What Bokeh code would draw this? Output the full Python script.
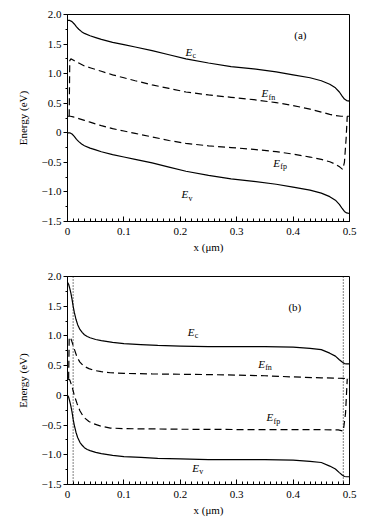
from bokeh.plotting import figure
from bokeh.layouts import column
from bokeh.models import Label, SingleIntervalTicker, Range1d, Span
from bokeh.embed import file_html
from bokeh.resources import INLINE

# ---------------- Panel (a) data ----------------
xa_band = [0, 0.004, 0.008, 0.012, 0.016, 0.02, 0.025, 0.03, 0.04, 0.05, 0.06, 0.08, 0.1, 0.12,
           0.15, 0.18, 0.21, 0.25, 0.29, 0.33, 0.37, 0.4, 0.43, 0.45, 0.465, 0.475, 0.482,
           0.487, 0.491, 0.495, 0.5]
ec_a = [1.90, 1.90, 1.88, 1.84, 1.79, 1.75, 1.71, 1.68, 1.64, 1.61, 1.58, 1.53, 1.49, 1.45,
        1.39, 1.32, 1.25, 1.18, 1.12, 1.08, 1.03, 0.98, 0.93, 0.88, 0.82, 0.76, 0.69,
        0.62, 0.57, 0.545, 0.535]
ev_a = [0.00, 0.00, -0.02, -0.06, -0.11, -0.15, -0.19, -0.22, -0.26, -0.29, -0.32, -0.37, -0.41, -0.45,
        -0.51, -0.58, -0.65, -0.72, -0.78, -0.82, -0.87, -0.92, -0.97, -1.02, -1.08, -1.14, -1.21,
        -1.28, -1.33, -1.355, -1.365]
xa_fn = [0.003, 0.004, 0.006, 0.01, 0.02, 0.03, 0.04, 0.06, 0.08, 0.1, 0.12, 0.15, 0.18, 0.21,
         0.25, 0.29, 0.33, 0.37, 0.4, 0.43, 0.45, 0.465, 0.475, 0.485, 0.5]
efn_a = [0.28, 1.22, 1.25, 1.23, 1.18, 1.13, 1.10, 1.04, 0.98, 0.93, 0.88, 0.81, 0.75, 0.69,
         0.64, 0.60, 0.56, 0.51, 0.46, 0.40, 0.35, 0.31, 0.29, 0.28, 0.28]
xa_fp = [0, 0.005, 0.01, 0.02, 0.03, 0.04, 0.06, 0.08, 0.1, 0.12, 0.15, 0.18, 0.21, 0.25, 0.29,
         0.33, 0.37, 0.4, 0.43, 0.45, 0.465, 0.475, 0.483, 0.488, 0.491, 0.494, 0.496]
efp_a = [0.28, 0.28, 0.27, 0.24, 0.21, 0.18, 0.12, 0.07, 0.03, -0.01, -0.07, -0.13, -0.18, -0.22, -0.25,
         -0.28, -0.32, -0.36, -0.41, -0.45, -0.49, -0.53, -0.58, -0.62, -0.50, -0.10, 0.28]

# ---------------- Panel (b) data ----------------
xb_band = [0, 0.002, 0.004, 0.006, 0.008, 0.01, 0.012, 0.015, 0.018, 0.022, 0.026, 0.03, 0.035,
           0.04, 0.05, 0.06, 0.08, 0.1, 0.13, 0.16, 0.2, 0.25, 0.3, 0.35, 0.4, 0.43, 0.45,
           0.465, 0.475, 0.482, 0.487, 0.491, 0.495, 0.5]
ec_b = [1.90, 1.87, 1.80, 1.72, 1.62, 1.50, 1.40, 1.28, 1.19, 1.11, 1.06, 1.02, 0.99,
        0.97, 0.94, 0.92, 0.89, 0.87, 0.855, 0.84, 0.83, 0.82, 0.82, 0.82, 0.81, 0.79, 0.77,
        0.71, 0.66, 0.60, 0.56, 0.535, 0.53, 0.53]
ev_b = [0.00, -0.03, -0.10, -0.18, -0.28, -0.40, -0.50, -0.62, -0.71, -0.79, -0.84, -0.88, -0.91,
        -0.93, -0.96, -0.98, -1.01, -1.03, -1.045, -1.06, -1.07, -1.08, -1.08, -1.08, -1.09, -1.11, -1.13,
        -1.19, -1.24, -1.30, -1.34, -1.365, -1.37, -1.37]
xb_fn = [0.002, 0.003, 0.005, 0.008, 0.012, 0.017, 0.022, 0.029, 0.038, 0.047, 0.06, 0.076, 0.1,
         0.15, 0.2, 0.25, 0.3, 0.35, 0.4, 0.45, 0.49, 0.5]
efn_b = [0.28, 0.97, 0.98, 0.90, 0.78, 0.64, 0.56, 0.49, 0.45, 0.42, 0.40, 0.38, 0.37,
         0.36, 0.355, 0.35, 0.34, 0.33, 0.31, 0.295, 0.285, 0.28]
xb_fp = [0, 0.004, 0.008, 0.012, 0.017, 0.022, 0.029, 0.038, 0.047, 0.06, 0.076, 0.1, 0.15, 0.2,
         0.3, 0.4, 0.48, 0.489, 0.493, 0.496]
efp_b = [0.28, 0.26, 0.15, 0.0, -0.14, -0.26, -0.37, -0.44, -0.48, -0.52, -0.55, -0.56, -0.565, -0.57,
         -0.575, -0.575, -0.58, -0.60, -0.30, 0.28]
depletion_edges_b = [0.01, 0.489]

x_tick_labels = {0: "0", 0.1: "0.1", 0.2: "0.2", 0.3: "0.3", 0.4: "0.4", 0.5: "0.5"}
y_tick_labels = {2.0: "2.0", 1.5: "1.5", 1.0: "1.0", 0.5: "0.5", 0: "0",
                 -0.5: "\u22120.5", -1.0: "\u22121.0", -1.5: "\u22121.5"}

FONT = "Liberation Serif"


def make_fig(top, bottom, fh):
    p = figure(output_backend="svg", toolbar_location=None,
               frame_width=282, frame_height=fh,
               min_border_left=67, min_border_right=14,
               min_border_top=top, min_border_bottom=bottom,
               x_range=Range1d(0, 0.5), y_range=Range1d(-1.5, 2.0))
    p.xgrid.visible = False
    p.ygrid.visible = False
    p.outline_line_color = "black"
    p.outline_line_alpha = 1
    p.outline_line_width = 1
    p.background_fill_color = "white"
    p.border_fill_color = "white"

    p.xaxis.ticker = SingleIntervalTicker(interval=0.1, num_minor_ticks=10)
    p.yaxis.ticker = SingleIntervalTicker(interval=0.5, num_minor_ticks=2)
    p.xaxis.major_label_overrides = x_tick_labels
    p.yaxis.major_label_overrides = y_tick_labels
    for ax in (p.xaxis[0], p.yaxis[0]):
        ax.axis_line_color = "black"
        ax.major_tick_line_color = "black"
        ax.minor_tick_line_color = "black"
        ax.major_label_text_font = FONT
        ax.major_label_text_font_size = "11px"
        ax.major_label_text_color = "black"
        ax.axis_label_text_font = FONT
        ax.axis_label_text_font_size = "11px"
        ax.axis_label_text_font_style = "normal"
        ax.axis_label_text_color = "black"
    p.xaxis.major_tick_in = 5
    p.xaxis.major_tick_out = 0
    p.xaxis.minor_tick_in = 3
    p.xaxis.minor_tick_out = 0
    p.xaxis.major_label_standoff = 6
    p.xaxis.axis_label_standoff = 3
    p.xaxis.axis_label = "x (\u03bcm)"
    p.yaxis.major_tick_in = 0
    p.yaxis.major_tick_out = 4
    p.yaxis.minor_tick_in = 0
    p.yaxis.minor_tick_out = 2
    p.yaxis.major_label_standoff = 2
    p.yaxis.axis_label_standoff = 10
    p.yaxis.axis_label = "Energy (eV)"
    return p


def add_sym(p, x, y, sub):
    p.add_layout(Label(x=x, y=y, text="E", text_font=FONT, text_font_style="italic",
                       text_font_size="11px", text_baseline="middle", text_align="left",
                       text_color="black"))
    p.add_layout(Label(x=x, y=y, text=sub, text_font=FONT, text_font_size="8px",
                       text_baseline="middle", text_align="left", x_offset=7, y_offset=-4,
                       text_color="black"))


def add_tag(p, x, y, tag):
    p.add_layout(Label(x=x, y=y, text=tag, text_font=FONT, text_font_size="11px",
                       text_baseline="middle", text_align="center", text_color="black"))


LW = 1.2
DASH = "7 4"

# Panel (a)
pa = make_fig(14, 39, 207)
pa.line(xa_band, ec_a, line_color="black", line_width=LW)
pa.line(xa_band, ev_a, line_color="black", line_width=LW)
pa.line(xa_fn, efn_a, line_color="black", line_width=LW, line_dash=DASH)
pa.line(xa_fp, efp_a, line_color="black", line_width=LW, line_dash=DASH)
add_sym(pa, 0.209, 1.37, "c")
add_sym(pa, 0.344, 0.67, "fn")
add_sym(pa, 0.365, -0.51, "fp")
add_sym(pa, 0.202, -1.04, "v")
add_tag(pa, 0.413, 1.65, "(a)")

# Panel (b)
pb = make_fig(16, 40, 208)
pb.line(xb_band, ec_b, line_color="black", line_width=LW)
pb.line(xb_band, ev_b, line_color="black", line_width=LW)
pb.line(xb_fn, efn_b, line_color="black", line_width=LW, line_dash=DASH)
pb.line(xb_fp, efp_b, line_color="black", line_width=LW, line_dash=DASH)
for xe in depletion_edges_b:
    pb.add_layout(Span(location=xe, dimension="height", line_color="black",
                       line_width=1, line_dash="1 2"))
add_sym(pb, 0.213, 1.07, "c")
add_sym(pb, 0.338, 0.536, "fn")
add_sym(pb, 0.353, -0.37, "fp")
add_sym(pb, 0.221, -1.22, "v")
add_tag(pb, 0.403, 1.48, "(b)")

layout = column(pa, pb, spacing=0)
open("out.html", "w").write(file_html(layout, INLINE))
